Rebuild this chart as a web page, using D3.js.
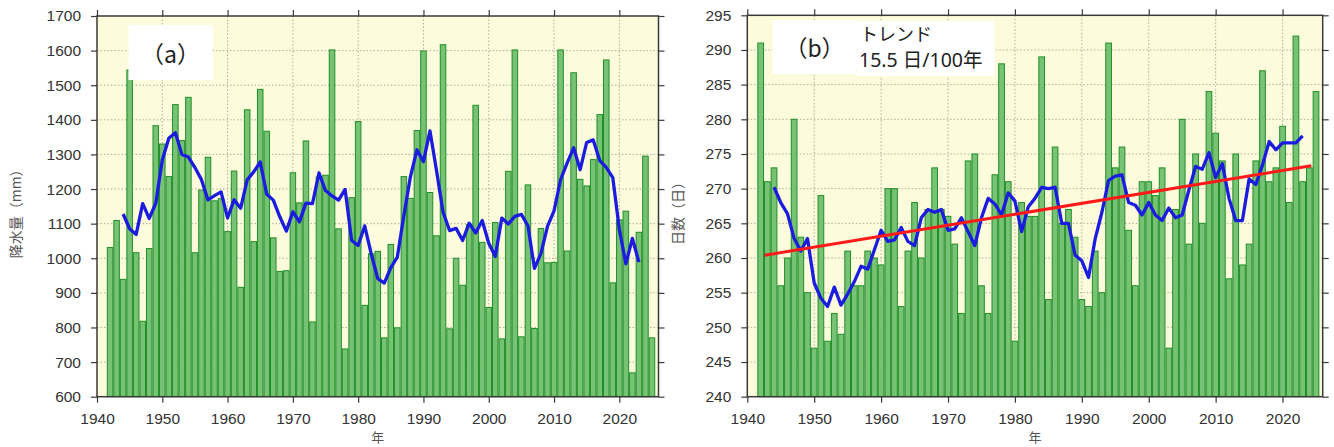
<!DOCTYPE html>
<html><head><meta charset="utf-8">
<script src="https://cdn.jsdelivr.net/npm/d3@7"></script>
<style>
body{margin:0;background:#fff;}
svg{display:block;font-family:"Liberation Sans",Arial,sans-serif;}
</style>
</head><body>
<svg id="c" width="1334" height="447"></svg>
<script>
// ---- data ----
const years = [1942,1943,1944,1945,1946,1947,1948,1949,1950,1951,
  1952,1953,1954,1955,1956,1957,1958,1959,1960,1961,
  1962,1963,1964,1965,1966,1967,1968,1969,1970,1971,
  1972,1973,1974,1975,1976,1977,1978,1979,1980,1981,
  1982,1983,1984,1985,1986,1987,1988,1989,1990,1991,
  1992,1993,1994,1995,1996,1997,1998,1999,2000,2001,
  2002,2003,2004,2005,2006,2007,2008,2009,2010,2011,
  2012,2013,2014,2015,2016,2017,2018,2019,2020,2021,
  2022,2023,2024,2025];

// (a) annual precipitation (mm)
const precip = [1031,1109,939,1544,1016,818,1028,1383,1330,1236,
  1444,1340,1465,1016,1197,1292,1166,1172,1077,1252,
  916,1429,1048,1488,1367,1059,962,964,1247,1160,
  1339,816,1235,1240,1602,1085,738,1175,1395,864,
  1013,1020,770,1040,799,1236,1173,1369,1599,1190,
  1065,1617,796,1000,922,1097,1442,1046,858,1103,
  767,1251,1602,773,1212,797,1086,987,988,1602,
  1021,1536,1228,1209,1285,1415,1573,929,1111,1136,
  669,1075,1295,770];

// 5-year running mean line (1944-2023)
const maYears = [1944,1945,1946,1947,1948,1949,1950,1951,1952,1953,
  1954,1955,1956,1957,1958,1959,1960,1961,1962,1963,
  1964,1965,1966,1967,1968,1969,1970,1971,1972,1973,
  1974,1975,1976,1977,1978,1979,1980,1981,1982,1983,
  1984,1985,1986,1987,1988,1989,1990,1991,1992,1993,
  1994,1995,1996,1997,1998,1999,2000,2001,2002,2003,
  2004,2005,2006,2007,2008,2009,2010,2011,2012,2013,
  2014,2015,2016,2017,2018,2019,2020,2021,2022,2023];
const precipMA = [1127.8,1085.2,1069.0,1157.8,1115.0,1159.0,1284.2,1346.6,1363.0,1300.2,
  1292.4,1262.0,1227.2,1168.6,1180.8,1191.8,1116.6,1169.2,1144.4,1226.6,
  1249.6,1278.2,1184.8,1168.0,1119.8,1078.4,1134.4,1105.2,1159.4,1158.0,
  1246.4,1195.6,1180.0,1168.0,1199.0,1051.4,1037.0,1093.4,1012.4,941.4,
  928.4,973.0,1003.6,1123.4,1235.2,1313.4,1279.2,1368.0,1253.4,1133.6,
  1080.0,1086.4,1051.4,1101.4,1073.0,1109.2,1043.2,1005.0,1116.2,1099.2,
  1121.0,1127.0,1094.0,971.0,1014.0,1092.0,1136.8,1226.8,1275.0,1319.2,
  1255.8,1334.6,1342.0,1282.2,1262.6,1232.8,1083.6,984.0,1057.2,989.0];

// (b) number of days
const days = [291,271,273,256,260,280,263,255,247,269,
  248,252,249,261,256,256,261,260,259,270,
  270,253,261,268,260,267,273,267,266,262,
  252,274,275,256,252,272,288,271,248,268,
  266,266,289,254,276,265,267,263,254,253,
  261,255,291,273,276,264,256,271,271,269,
  273,247,267,280,262,275,265,284,278,274,
  257,275,259,262,274,287,271,273,279,268,
  292,271,273,284];
const daysMA = [270.2,268.0,266.4,262.8,261.0,262.8,256.4,254.2,253.0,255.8,
  253.2,254.8,256.6,258.8,258.4,261.2,264.0,262.4,262.6,264.4,
  262.4,261.8,265.8,267.0,266.6,267.0,264.0,264.2,265.8,263.8,
  261.8,265.8,268.6,267.8,266.2,269.4,268.2,263.8,267.4,268.6,
  270.2,270.0,270.2,265.0,265.0,260.4,259.6,257.2,262.8,266.6,
  271.2,271.8,272.0,268.0,267.6,266.2,268.0,266.2,265.4,267.2,
  265.8,266.2,269.8,273.2,272.8,275.2,271.6,273.6,268.6,265.4,
  265.4,271.4,270.6,273.4,276.8,275.6,276.6,276.6,276.6,277.6];

// trend line (15.5 days / 100 years)
const trendYears = [1942.6, 2024.3];
const trendValues = [260.4, 273.3];

const xTicks = [1940,1950,1960,1970,1980,1990,2000,2010,2020];
const precipTicks = [600,700,800,900,1000,1100,1200,1300,1400,1500,1600,1700];
const dayTicks = [240,245,250,255,260,265,270,275,280,285,290,295];

// ---- drawing ----
const svg = d3.select("#c");
const CJK = "'Noto Sans CJK JP', 'Noto Sans', sans-serif";

function panel(o){
  const x = d3.scaleLinear().domain([1940, 2026]).range([o.x0, o.x1]);
  const y = d3.scaleLinear().domain(o.dom).range([o.y1, o.y0]);
  const g = svg.append("g");

  g.append("rect").attr("x", o.x0).attr("y", o.y0)
    .attr("width", o.x1 - o.x0).attr("height", o.y1 - o.y0)
    .attr("fill", "#fcfcdc");

  // grid
  g.append("g").selectAll("line").data(xTicks.slice(1)).join("line")
    .attr("x1", d => x(d)).attr("x2", d => x(d))
    .attr("y1", o.y0).attr("y2", o.y1)
    .attr("stroke", "#9a9a90").attr("stroke-width", 0.8).attr("stroke-dasharray", "1.5,2");
  g.append("g").selectAll("line").data(o.ticks.slice(1, -1)).join("line")
    .attr("x1", o.x0).attr("x2", o.x1)
    .attr("y1", d => y(d)).attr("y2", d => y(d))
    .attr("stroke", "#9a9a90").attr("stroke-width", 0.8).attr("stroke-dasharray", "1.5,2");

  // bars
  g.append("g").selectAll("rect").data(years.map((yr, i) => [yr, o.vals[i]])).join("rect")
    .attr("x", d => x(d[0] - 0.5) + 0.5)
    .attr("width", d => x(d[0] + 0.5) - x(d[0] - 0.5) - 1)
    .attr("y", d => y(d[1]))
    .attr("height", d => o.y1 - y(d[1]))
    .attr("fill", "#78c276").attr("stroke", "#1f8f26").attr("stroke-width", 1);

  // moving average
  const line = d3.line().x(d => x(d[0])).y(d => y(d[1]));
  g.append("path").datum(maYears.map((yr, i) => [yr, o.ma[i]]))
    .attr("d", line).attr("fill", "none")
    .attr("stroke", "#1c1ce0").attr("stroke-width", 3.3).attr("stroke-linejoin", "round");

  if (o.trend) {
    g.append("path").datum(trendYears.map((yr, i) => [yr, trendValues[i]]))
      .attr("d", line).attr("fill", "none")
      .attr("stroke", "#ff1a1a").attr("stroke-width", 3);
  }

  // frame
  g.append("rect").attr("x", o.x0).attr("y", o.y0)
    .attr("width", o.x1 - o.x0).attr("height", o.y1 - o.y0)
    .attr("fill", "none").attr("stroke", "#3a3a3a").attr("stroke-width", 1.5);

  const style = sel => {
    sel.select(".domain").remove();
    sel.selectAll(".tick line").attr("stroke", "#3a3a3a").attr("stroke-width", 1.2);
    sel.selectAll("text").attr("fill", "#333").attr("font-size", "15.5px")
      .attr("font-family", "'Liberation Sans', Arial, sans-serif");
  };

  g.append("g").attr("transform", `translate(${o.x0},0)`)
    .call(d3.axisLeft(y).tickValues(o.ticks).tickSize(6).tickPadding(10).tickFormat(d3.format("d")))
    .call(style);
  g.append("g").attr("transform", `translate(${o.x1},0)`)
    .call(d3.axisRight(y).tickValues(o.ticks).tickSize(6).tickFormat(""))
    .call(style);
  g.append("g").attr("transform", `translate(0,${o.y1})`)
    .call(d3.axisBottom(x).tickValues(xTicks).tickSize(6).tickPadding(10).tickFormat(d3.format("d")))
    .call(style);
  g.append("g").attr("transform", `translate(0,${o.y0})`)
    .call(d3.axisTop(x).tickValues(xTicks).tickSize(6).tickFormat(""))
    .call(style);

  // axis titles
  g.append("text")
    .attr("transform", `translate(${o.ytx},${(o.y0 + o.y1) / 2 + 4}) rotate(-90)`)
    .attr("text-anchor", "middle").attr("dominant-baseline", "central")
    .attr("font-family", CJK).attr("font-size", "14px")
    .attr("fill", "#555").text(o.ytitle);
  g.append("text")
    .attr("x", (o.x0 + o.x1) / 2).attr("y", 441.5)
    .attr("text-anchor", "middle")
    .attr("font-family", CJK).attr("font-size", "13px")
    .attr("fill", "#555").text("年");

  // label box
  g.append("rect").attr("x", o.lb[0]).attr("y", o.lb[1]).attr("width", o.lb[2]).attr("height", o.lb[3])
    .attr("fill", "#fff");
  g.append("text").attr("x", o.lb[0] + o.lb[2] / 2).attr("y", o.lb[1] + o.lb[3] / 2)
    .attr("text-anchor", "middle").attr("dominant-baseline", "central")
    .attr("font-family", CJK).attr("font-size", "23px")
    .attr("fill", "#222").text(o.label);
  return {g, x, y};
}

panel({x0: 97, x1: 658.5, y0: 16, y1: 396.7, dom: [600, 1700], ticks: precipTicks,
  vals: precip, ma: precipMA, trend: false, ytitle: "降水量（mm）", ytx: 15,
  lb: [128.5, 25, 84, 55], label: "（a）"});

const p2 = panel({x0: 747.3, x1: 1322.7, y0: 15.3, y1: 396.7, dom: [240, 295], ticks: dayTicks,
  vals: days, ma: daysMA, trend: true, ytitle: "日数（日）", ytx: 676.5,
  lb: [772.5, 20, 84, 54], label: "（b）"});

// trend annotation
p2.g.append("rect").attr("x", 856.5).attr("y", 21).attr("width", 138).attr("height", 55).attr("fill", "#fff");
const t = p2.g.append("text").attr("fill", "#222");
t.append("tspan").attr("x", 860).attr("y", 41).attr("font-size", "18px")
  .attr("font-family", CJK).text("トレンド");
t.append("tspan").attr("x", 859).attr("y", 67).attr("font-size", "19.5px")
  .attr("font-family", "'Noto Sans', 'Noto Sans CJK JP', sans-serif").text("15.5 日/100年");
</script>
</body></html>
